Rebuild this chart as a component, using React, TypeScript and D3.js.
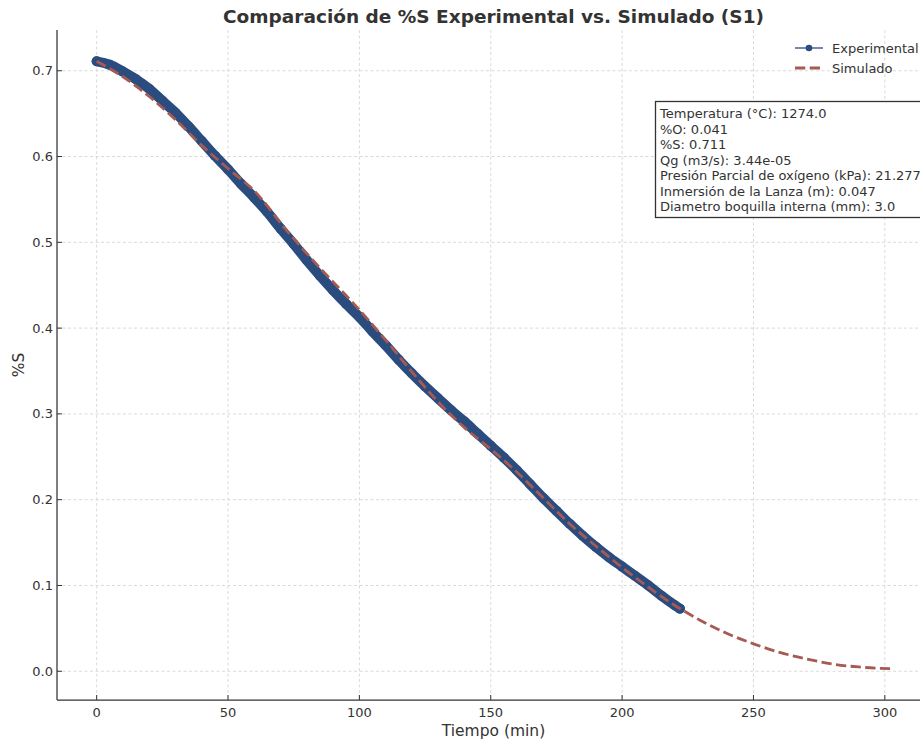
import * as d3 from "d3";

// tiempo (min) y %S experimental
const expTime = [0, 5, 10, 15, 20, 25, 30, 35, 40, 45, 50, 55, 60, 65, 70, 75, 80, 85, 90, 95, 100, 105, 110, 115, 120, 125, 130, 135, 140, 145, 150, 155, 160, 165, 170, 175, 180, 185, 190, 195, 200, 205, 210, 215, 220, 222];
const expS = [0.711, 0.707, 0.699, 0.69, 0.679, 0.665, 0.651, 0.635, 0.618, 0.601, 0.585, 0.568, 0.552, 0.535, 0.516, 0.498, 0.479, 0.461, 0.444, 0.428, 0.413, 0.396, 0.38, 0.363, 0.347, 0.332, 0.318, 0.304, 0.291, 0.277, 0.263, 0.249, 0.234, 0.218, 0.202, 0.187, 0.172, 0.158, 0.145, 0.133, 0.122, 0.111, 0.1, 0.088, 0.077, 0.073];

// simulado
const simTime = [0, 10, 20, 30, 40, 50, 60, 72, 85, 98, 110, 120, 130, 140, 150, 160, 170, 180, 190, 200, 210, 220, 230, 240, 250, 260, 270, 280, 290, 302];
const simS = [0.711, 0.693, 0.67, 0.643, 0.613, 0.586, 0.56, 0.515, 0.47, 0.428, 0.386, 0.349, 0.314, 0.284, 0.259, 0.232, 0.202, 0.172, 0.146, 0.121, 0.098, 0.077, 0.059, 0.044, 0.032, 0.022, 0.0145, 0.0085, 0.005, 0.003];

const xTicks = [0, 50, 100, 150, 200, 250, 300];
const yTicks = [0.0, 0.1, 0.2, 0.3, 0.4, 0.5, 0.6, 0.7];

const infoLines = [
  "Temperatura (°C): 1274.0",
  "%O: 0.041",
  "%S: 0.711",
  "Qg (m3/s): 3.44e-05",
  "Presión Parcial de oxígeno (kPa): 21.277",
  "Inmersión de la Lanza (m): 0.047",
  "Diametro boquilla interna (mm): 3.0",
];

const W = 920;
const H = 744;
const left = 57, right = 930, top = 30, bottom = 700;
const BLUE = "#2b4c7f";
const RED = "#a65a52";
const INK = "#333333";
const FONT = "DejaVu Sans, sans-serif";

export default function App() {
  const x = d3.scaleLinear().domain([-15.1, 317.2]).range([left, right]);
  const y = d3.scaleLinear().domain([-0.0335, 0.7475]).range([bottom, top]);

  const expPts = expTime.map((t, i) => [t, expS[i]] as [number, number]);
  const simPts = simTime.map((t, i) => [t, simS[i]] as [number, number]);

  const line = d3
    .line<[number, number]>()
    .x((d) => x(d[0]))
    .y((d) => y(d[1]))
    .curve(d3.curveMonotoneX);

  return (
    <svg
      width={W}
      height={H}
      style={{ position: "absolute", left: 0, top: 0, background: "#fff" }}
      fontFamily={FONT}
    >
      {/* grid */}
      <g stroke="#d0d0d0" strokeWidth={0.8} strokeDasharray="3,2.5">
        {xTicks.map((t) => (
          <line key={"gx" + t} x1={x(t)} x2={x(t)} y1={top} y2={bottom} />
        ))}
        {yTicks.map((t) => (
          <line key={"gy" + t} x1={left} x2={right} y1={y(t)} y2={y(t)} />
        ))}
      </g>

      {/* experimental */}
      <path
        d={line(expPts) || ""}
        fill="none"
        stroke={BLUE}
        strokeWidth={10}
        strokeLinecap="round"
        strokeLinejoin="round"
      />
      {expPts.map((d, i) => (
        <circle key={"p" + i} cx={x(d[0])} cy={y(d[1])} r={5} fill={BLUE} />
      ))}

      {/* simulado */}
      <path
        d={line(simPts) || ""}
        fill="none"
        stroke={RED}
        strokeWidth={2.8}
        strokeDasharray="10.3,4.4"
      />

      {/* axes */}
      <g stroke={INK} strokeWidth={1.25}>
        <line x1={left} x2={left} y1={top} y2={bottom} />
        <line x1={left} x2={right} y1={bottom} y2={bottom} />
      </g>
      <g stroke={INK} strokeWidth={1}>
        {xTicks.map((t) => (
          <line key={"tx" + t} x1={x(t)} x2={x(t)} y1={bottom} y2={bottom - 5} />
        ))}
        {yTicks.map((t) => (
          <line key={"ty" + t} x1={left} x2={left + 5} y1={y(t)} y2={y(t)} />
        ))}
      </g>
      <g fill={INK} fontSize={13}>
        {xTicks.map((t) => (
          <text key={"lx" + t} x={x(t)} y={bottom + 17} textAnchor="middle">
            {t}
          </text>
        ))}
        {yTicks.map((t) => (
          <text key={"ly" + t} x={left - 4} y={y(t) + 4.5} textAnchor="end">
            {t.toFixed(1)}
          </text>
        ))}
      </g>

      {/* labels */}
      <text x={(left + right) / 2} y={736} textAnchor="middle" fontSize={15.5} fill={INK}>
        Tiempo (min)
      </text>
      <text
        transform={`translate(24, ${(top + bottom) / 2}) rotate(-90)`}
        textAnchor="middle"
        fontSize={15.5}
        fill={INK}
      >
        %S
      </text>
      <text
        x={(left + right) / 2}
        y={23}
        textAnchor="middle"
        fontSize={18.5}
        fontWeight="bold"
        fill={INK}
      >
        Comparación de %S Experimental vs. Simulado (S1)
      </text>

      {/* legend */}
      <g fontSize={13} fill={INK}>
        <line x1={795} x2={823} y1={48} y2={48} stroke={BLUE} strokeWidth={1.3} />
        <circle cx={809} cy={48} r={3.3} fill={BLUE} />
        <text x={832} y={52.5}>Experimental</text>
        <line x1={795} x2={823} y1={68} y2={68} stroke={RED} strokeWidth={2.8} strokeDasharray="10.3,4.4" />
        <text x={832} y={72.5}>Simulado</text>
      </g>

      {/* info box */}
      <rect x={655.5} y={101.5} width={300} height={116} fill="#fff" stroke={INK} strokeWidth={1.3} />
      <g fontSize={13} fill={INK}>
        {infoLines.map((s, i) => (
          <text key={"i" + i} x={660} y={118 + i * 15.5}>
            {s}
          </text>
        ))}
      </g>
    </svg>
  );
}
